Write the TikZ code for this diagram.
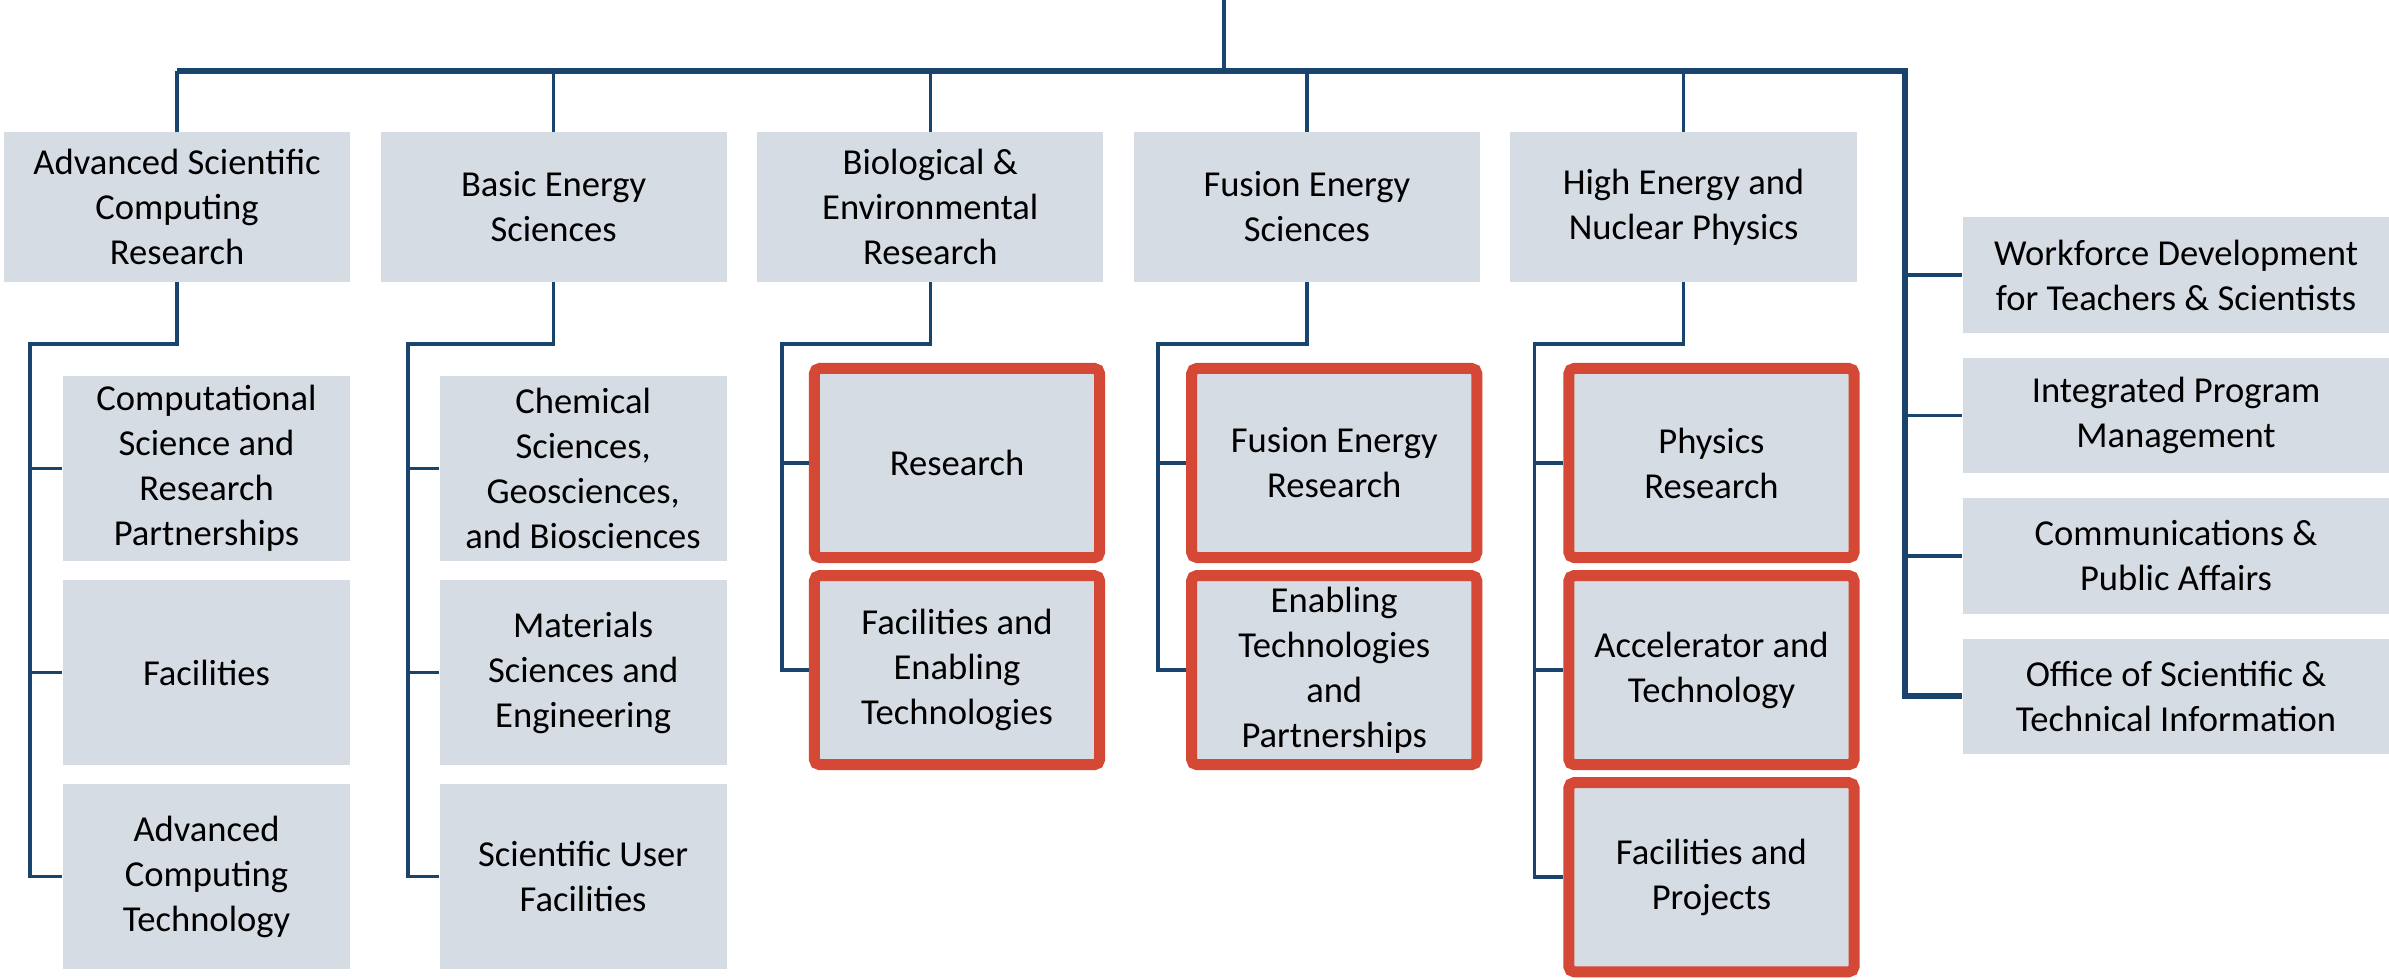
\documentclass[tikz,border=0pt]{standalone}
\usepackage{fontspec}
\setmainfont{Carlito}
\usetikzlibrary{positioning, calc}
\definecolor{linkblue}{RGB}{24,68,110}
\definecolor{boxgray}{RGB}{214,220,228}
\definecolor{hired}{RGB}{213,72,54}

\begin{document}
\begin{tikzpicture}[
		x=0.01cm, y=-0.01cm,
		link/.style={draw=linkblue, line width=1pt},
		trunk/.style={draw=linkblue, line width=1.7pt},
		font=\fontsize{10.4}{12.8}\selectfont
	]
	\tikzstyle{Box} = [ %plain gray box, used by all the others
		align=center,
		fill=boxgray,
		inner sep=0pt
	]
	\tikzstyle{TopBox} = [
		minimum width=3.46cm,
		minimum height=1.49cm,
		Box
	]
	\tikzstyle{SubBox} = [
		minimum width=2.87cm,
		minimum height=1.85cm,
		Box
	]
	\tikzstyle{HotBox} = [
		minimum width=2.85cm,
		minimum height=1.89cm,
		draw=hired,
		line width=0.11cm,
		rounded corners=1.5pt,
		Box
	]
	\tikzstyle{SideBox} = [
		minimum width=4.26cm,
		minimum height=1.15cm,
		Box
	]

	\useasboundingbox (0,0) rectangle (2389,980);

	\coordinate (root) at (1224,0);
	\coordinate (bus) at (1224,71);
	\coordinate (side) at (1905,71);

	% offices
	\node (asc) [TopBox] at (177,207) {Advanced Scientific\\Computing\\Research};
	\node (bes) [TopBox, right = 0.29cm of asc] {Basic Energy\\Sciences};
	\node (ber) [TopBox, right = 0.29cm of bes] {Biological \&\\Environmental\\Research};
	\node (fes) [TopBox, right = 0.29cm of ber] {Fusion Energy\\Sciences};
	\node (hep) [TopBox, right = 0.29cm of fes] {High Energy and\\Nuclear Physics};

	\node (wfd) [SideBox] at (2176,275) {Workforce Development\\for Teachers \& Scientists};
	\node (ipm) [SideBox, below = 0.24cm of wfd] {Integrated Program\\Management};
	\node (cpa) [SideBox, below = 0.24cm of ipm] {Communications \&\\Public Affairs};
	\node (ost) [SideBox, below = 0.24cm of cpa] {Office of Scientific \&\\Technical Information};

	% divisions
	\node (csr) [SubBox] at (206.5,468.5) {Computational\\Science and\\Research\\Partnerships};
	\node (fac) [SubBox, below = 0.175cm of csr] {Facilities};
	\node (act) [SubBox, below = 0.175cm of fac] {Advanced\\Computing\\Technology};

	\node (cgb) [SubBox, right = 0.88cm of csr] {Chemical\\Sciences,\\Geosciences,\\and Biosciences};
	\node (mse) [SubBox, below = 0.175cm of cgb] {Materials\\Sciences and\\Engineering};
	\node (suf) [SubBox, below = 0.175cm of mse] {Scientific User\\Facilities};

	\node (res) [HotBox] at (957,463) {Research};
	\node (fet) [HotBox, below = 0.07cm of res] {Facilities and\\Enabling\\Technologies};

	\node (fer) [HotBox, right = 0.81cm of res] {Fusion Energy\\Research};
	\node (etp) [HotBox, below = 0.07cm of fer] {Enabling\\Technologies\\and\\Partnerships};

	\node (phr) [HotBox, right = 0.81cm of fer] {Physics\\Research};
	\node (aat) [HotBox, below = 0.07cm of phr] {Accelerator and\\Technology};
	\node (fap) [HotBox, below = 0.07cm of aat] {Facilities and\\Projects};

	% lines
	\draw[link] (root) -- (bus);
	\draw[trunk] (asc.north |- bus) -- (side) -- (side |- ost.west) -- (ost.west);
	\foreach \n in {asc,bes,ber,fes,hep}
		\draw[link] (\n.north) -- (\n.north |- bus);
	\foreach \n in {wfd,ipm,cpa}
		\draw[link] (side |- \n.west) -- (\n.west);

	\draw[link] (asc.south) -- ++(0,62) -| ([xshift=-0.32cm]act.west) -- (act.west);
	\draw[link] (csr.west) -- ++(-32,0);
	\draw[link] (fac.west) -- ++(-32,0);

	\draw[link] (bes.south) -- ++(0,62) -| ([xshift=-0.31cm]suf.west) -- (suf.west);
	\draw[link] (cgb.west) -- ++(-31,0);
	\draw[link] (mse.west) -- ++(-31,0);

	\draw[link] (ber.south) -- ++(0,62) -| ([xshift=-0.27cm]fet.west) -- (fet.west);
	\draw[link] (res.west) -- ++(-27,0);

	\draw[link] (fes.south) -- ++(0,62) -| ([xshift=-0.28cm]etp.west) -- (etp.west);
	\draw[link] (fer.west) -- ++(-28,0);

	\draw[link] (hep.south) -- ++(0,62) -| ([xshift=-0.29cm]fap.west) -- (fap.west);
	\draw[link] (phr.west) -- ++(-29,0);
	\draw[link] (aat.west) -- ++(-29,0);
\end{tikzpicture}
\end{document}
